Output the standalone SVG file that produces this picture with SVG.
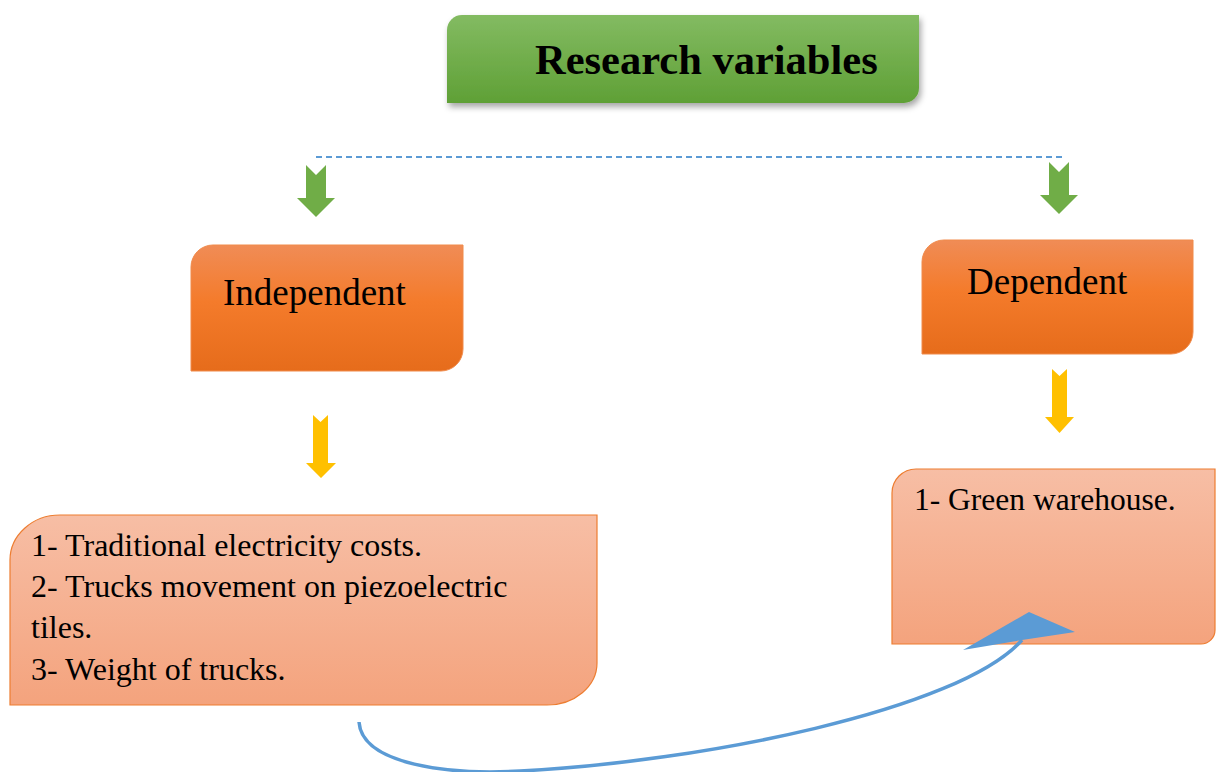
<svg xmlns="http://www.w3.org/2000/svg" width="1216" height="772" viewBox="0 0 1216 772">
<defs>
<linearGradient id="gGreen" x1="0" y1="0" x2="0" y2="1">
<stop offset="0" stop-color="#83bb62"/>
<stop offset="1" stop-color="#5fa036"/>
</linearGradient>
<linearGradient id="gOrange" x1="0" y1="0" x2="0" y2="1">
<stop offset="0" stop-color="#f08c56"/>
<stop offset="0.45" stop-color="#f47b2b"/>
<stop offset="1" stop-color="#e66c1b"/>
</linearGradient>
<linearGradient id="gSalmon" x1="0" y1="0" x2="0" y2="1">
<stop offset="0" stop-color="#f7bea5"/>
<stop offset="1" stop-color="#f4a37d"/>
</linearGradient>
<filter id="shadow" x="-10%" y="-20%" width="120%" height="150%">
<feDropShadow dx="2" dy="4" stdDeviation="3" flood-color="#000" flood-opacity="0.35"/>
</filter>
<style>
.serif{font-family:"Liberation Serif","Times New Roman",serif;fill:#000}
.hdr{fill:url(#gOrange);stroke:#f08a4b;stroke-width:1}
.lst{fill:url(#gSalmon);stroke:#ed7d31;stroke-width:1.2}
.garrow{fill:#70ad47}
.yarrow{fill:#ffc000}
</style>
</defs>
<rect width="1216" height="772" fill="#fff"/>

<g id="title">
<path d="M462,15 L919,15 L919,88 A15,15 0 0 1 904,103 L447,103 L447,30 A15,15 0 0 1 462,15 Z" fill="url(#gGreen)" filter="url(#shadow)"/>
<text class="serif" x="535" y="74" font-size="42.5" font-weight="bold">Research variables</text>
</g>

<g id="independent">
<path class="hdr" d="M213,245 L463,245 L463,349 A22,22 0 0 1 441,371 L191,371 L191,267 A22,22 0 0 1 213,245 Z"/>
<text class="serif" x="223" y="305" font-size="37">Independent</text>
</g>

<g id="dependent">
<path class="hdr" d="M944,240 L1193,240 L1193,332 A22,22 0 0 1 1171,354 L922,354 L922,262 A22,22 0 0 1 944,240 Z"/>
<text class="serif" x="967" y="294" font-size="37">Dependent</text>
</g>

<g id="independent-list">
<path class="lst" d="M60,515 L597,515 L597,663 A50,42 0 0 1 547,705 L10,705 L10,560 A50,45 0 0 1 60,515 Z"/>
<text class="serif" font-size="32">
<tspan x="31" y="556">1- Traditional electricity costs.</tspan>
<tspan x="31" y="597">2- Trucks movement on piezoelectric</tspan>
<tspan x="31" y="638">tiles.</tspan>
<tspan x="31" y="680">3- Weight of trucks.</tspan>
</text>
</g>

<g id="dependent-list">
<path class="lst" d="M916,469 L1215,469 L1215,630 A14,14 0 0 1 1201,644 L892,644 L892,493 A24,24 0 0 1 916,469 Z"/>
<text class="serif" x="914" y="510" font-size="31.5">1- Green warehouse.</text>
</g>

<g id="connectors">
<line x1="316" y1="157" x2="1066" y2="157" stroke="#5b9bd5" stroke-width="2" stroke-dasharray="6,4"/>
<polygon class="garrow" points="306,165 316,175 326,165 326,198 335,198 316,217 297,198 306,198"/>
<polygon class="garrow" points="1049,162 1059,172 1069,162 1069,195 1078,195 1059,214 1040,195 1049,195"/>
<polygon class="yarrow" points="313,415 320.5,422 328,415 328,463 336,463 321,478 306,463 313,463"/>
<polygon class="yarrow" points="1052,369 1059.5,376 1067,369 1067,417 1074,417 1059.5,433 1045,417 1052,417"/>
<path d="M359,722 C362,765 450,775 520,771 C700,762 960,710 1022,640" fill="none" stroke="#5b9bd5" stroke-width="3.5"/>
<polygon points="963,650 1029,612 1075,632 1022,640" fill="#5b9bd5"/>
</g>
</svg>
